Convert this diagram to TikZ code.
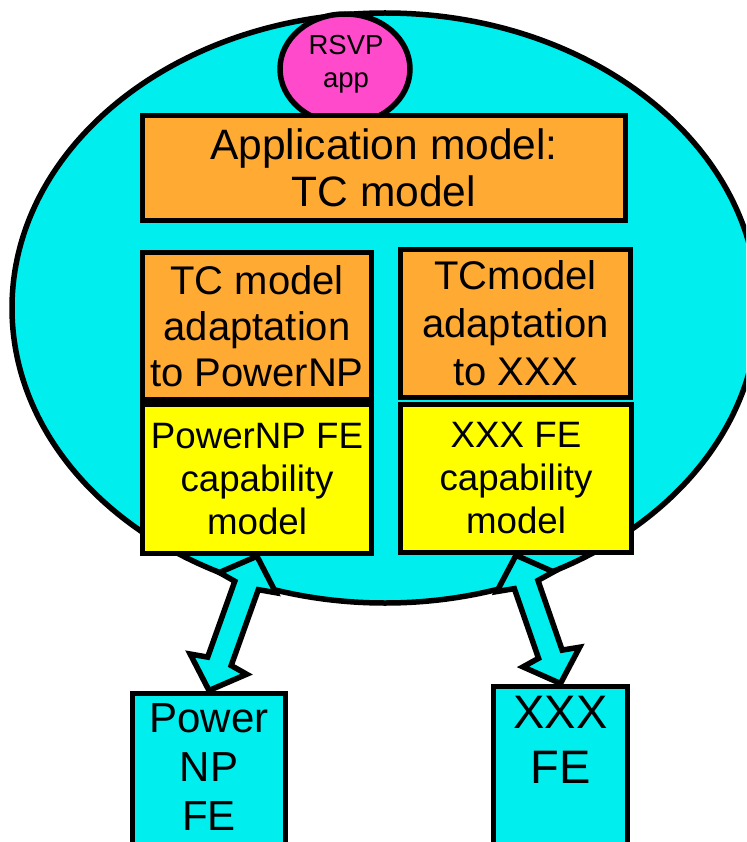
\documentclass[tikz,border=0pt]{standalone}
\usepackage{fontspec}
\setmainfont{Liberation Sans}
\usetikzlibrary{shapes.geometric,calc}
\definecolor{cy}{RGB}{0,238,238}
\definecolor{org}{RGB}{255,170,51}
\definecolor{pnk}{RGB}{255,74,204}
\definecolor{ylw}{RGB}{255,255,0}
\tikzset{
  outl/.style={draw=black,line width=5.5pt,line join=miter},
  obox/.style={outl,rectangle,fill=org,align=center,inner sep=0pt},
  ybox/.style={outl,rectangle,fill=ylw,align=center,inner sep=0pt,font=\fontsize{36.7}{43}\selectfont},
  fbox/.style={outl,rectangle,fill=cy,inner sep=0pt},
  fatarrow/.style={outl,fill=cy},
}
\newcommand\fatarr[2]{%
  \path ($(#1)!28pt!(#2)$) coordinate (h1) ($(#1)!31pt!(#2)$) coordinate (h2)
        ($(#2)!31pt!(#1)$) coordinate (h3) ($(#2)!28pt!(#1)$) coordinate (h4);
  \draw[fatarrow] (#1) -- ($(h1)!30pt!90:(#2)$) -- ($(h2)!12.5pt!90:(#2)$)
    -- ($(h3)!12.5pt!90:(#2)$) -- ($(h4)!30pt!90:(#2)$) -- (#2)
    -- ($(h4)!30pt!-90:(#2)$) -- ($(h3)!12.5pt!-90:(#2)$)
    -- ($(h2)!12.5pt!-90:(#2)$) -- ($(h1)!30pt!-90:(#2)$) -- cycle;}
\begin{document}
\begin{tikzpicture}[x=1pt,y=-1pt]
\useasboundingbox (0,0) rectangle (746,842);
\clip (0,0) rectangle (746,842);
% big container ellipse
\draw[outl,fill=cy] (385,308) ellipse [x radius=373, y radius=295];
% RSVP app
\node[outl,ellipse,fill=pnk,minimum width=130,minimum height=110,inner sep=0pt] (rsvp) at (345,69) {};
\node[align=center,inner sep=0pt,font=\fontsize{27.5}{33}\selectfont] (rsvplbl) at (346,64) {RSVP\\app};
% application model
\node[obox,minimum width=483,minimum height=105,font=\fontsize{42.5}{47}\selectfont] (app) at (384,168) {Application model:\\TC model};
% adaptation boxes
\node[obox,minimum width=229,minimum height=147,font=\fontsize{40}{46}\selectfont] (tcl) at (257,326) {TC model\\adaptation\\to PowerNP};
\node[obox,minimum width=230,minimum height=148,font=\fontsize{40}{48}\selectfont] (tcr) at (515.5,323.5) {TCmodel\\adaptation\\to XXX};
% capability boxes
\node[ybox,minimum width=229,minimum height=149] (yl) at (257,479) {PowerNP FE\\capability\\model};
\node[ybox,minimum width=231,minimum height=148] (yr) at (516,478.5) {XXX FE\\capability\\model};
% FE boxes
\node[fbox,anchor=north,minimum width=153,minimum height=190] (plfe) at (209,690.5) {};
\node[align=center,anchor=north,inner sep=0pt,font=\fontsize{42}{49}\selectfont] (plfelbl) at (209,703) {Power\\NP\\FE};
\node[fbox,anchor=north,minimum width=134,minimum height=200] (xfe) at (560.5,683.5) {};
\node[align=center,anchor=north,inner sep=0pt,font=\fontsize{47}{55}\selectfont] (xfelbl) at (560.5,696) {XXX\\FE};
% arrows
\fatarr{yl.south}{plfe.north}
\fatarr{yr.south}{xfe.north}
\end{tikzpicture}
\end{document}
